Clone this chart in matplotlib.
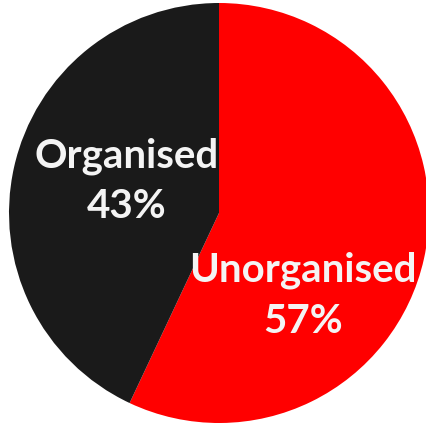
import matplotlib.pyplot as plt

labels = ['Unorganised', 'Organised']
shares = [57, 43]
colors = ['#ff0000', '#1a1a1a']

# label anchor points (pie units, radius = 1)
label_pos = [(0.40, -0.395), (-0.44, 0.15)]

W, H, DPI = 426, 423, 100
cx, cy, r = 219, 213, 210  # pie centre / radius in pixels

fig = plt.figure(figsize=(W / DPI, H / DPI), dpi=DPI)
ax = fig.add_axes([0, 0, 1, 1])

ax.pie(shares, colors=colors, startangle=90, counterclock=False,
       radius=1, wedgeprops=dict(linewidth=0))

for lab, val, (x, y) in zip(labels, shares, label_pos):
    ax.text(x, y, '{0}\n{1}%'.format(lab, val), color='#f4f4f4',
            fontsize=29, fontweight='bold', family='Lato',
            ha='center', va='center', linespacing=1.45)

ax.set_xlim(-cx / r, (W - cx) / r)
ax.set_ylim(-(H - cy) / r, cy / r)
ax.set_aspect('equal')
ax.axis('off')

fig.savefig('out.png', dpi=DPI)
